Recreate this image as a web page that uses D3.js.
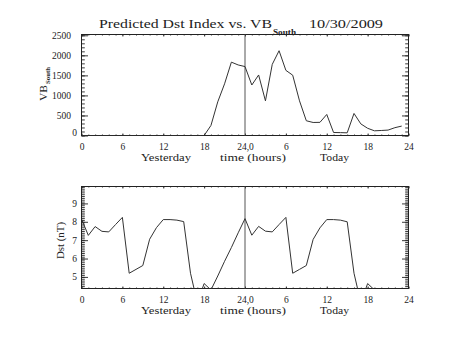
<!DOCTYPE html>
<html>
<head>
<meta charset="utf-8">
<script src="https://cdn.jsdelivr.net/npm/d3@7"></script>
<style>
  body { margin: 0; background: #fff; }
  svg { display: block; }
  text { font-family: "Liberation Serif", "DejaVu Serif", serif; fill: #222; }
</style>
</head>
<body>
<svg id="chart" width="453" height="340"></svg>
<script>
// ---- data ----------------------------------------------------------------
const titleMain = "Predicted Dst Index vs. VB";
const titleSub = "South";
const titleDate = "10/30/2009";

const xTickValues = [0, 6, 12, 18, 24, 30, 36, 42, 48];
const xTickLabels = ["0", "6", "12", "18", "24,0", "6", "12", "18", "24"];
const xGroupLabels = ["Yesterday", "time (hours)", "Today"];

const vbTicks = [0, 500, 1000, 1500, 2000, 2500];
const dstTicks = [5, 6, 7, 8, 9];

// hourly VB_South, hour 0 of yesterday .. hour 23 of today
const vbSouth = [
  0, 0, 0, 0, 0, 0, 0, 0, 0, 0, 0, 0, 0, 0, 0, 0, 0, 0, 0,
  250, 840, 1290, 1830, 1760,
  1720, 1260, 1510, 865, 1775, 2115, 1625, 1505, 865, 368, 325, 328,
  525, 75, 72, 67, 550, 290, 180, 117, 125, 135, 195, 235
];

// hourly predicted Dst (nT)
const dstIndex = [
  8.15, 7.26, 7.74, 7.48, 7.45, 7.85, 8.24, 5.2, 5.41, 5.62, 7.05, 7.68,
  8.12, 8.12, 8.09, 8.01, 5.2, 3.6, 4.64, 4.29, 5.05, 5.85, 6.6, 7.4,
  8.17, 7.27, 7.75, 7.49, 7.45, 7.85, 8.24, 5.2, 5.41, 5.62, 7.04, 7.67,
  8.12, 8.12, 8.09, 8.0, 5.2, 3.6, 4.64, 4.29
];

const dayBoundary = 24;

// ---- layout --------------------------------------------------------------
const svg = d3.select("#chart");
const ink = "#222";
const left = 81.5, right = 408.5;

const x = d3.scaleLinear().domain([0, 48]).range([left, right]);

const panels = [
  {
    id: "vb", top: 34.5, bottom: 135.5, domain: [0, 2520],
    ticks: vbTicks, minor: d3.range(0, 2501, 100),
    values: vbSouth, labelPad: 10.5
  },
  {
    id: "dst", top: 186.5, bottom: 288.5, domain: [4.37, 9.92],
    ticks: dstTicks, minor: d3.range(44, 100).map(d => d / 10),
    values: dstIndex, labelPad: 4.5
  }
];

const tickFont = 9.5;

panels.forEach(p => {
  const y = d3.scaleLinear().domain(p.domain).range([p.bottom, p.top]);
  p.y = y;
  const g = svg.append("g");

  // clip region for the data line
  svg.append("clipPath").attr("id", "clip-" + p.id)
    .append("rect")
    .attr("x", left).attr("y", p.top)
    .attr("width", right - left).attr("height", p.bottom - p.top);

  // minor ticks on all four sides
  const minorX = d3.range(0, 49);
  g.append("g").attr("transform", `translate(0,${p.bottom})`)
    .call(d3.axisBottom(x).tickValues(minorX).tickSize(-1).tickFormat(""));
  g.append("g").attr("transform", `translate(0,${p.top})`)
    .call(d3.axisTop(x).tickValues(minorX).tickSize(-1).tickFormat(""));
  g.append("g").attr("transform", `translate(${left},0)`)
    .call(d3.axisLeft(y).tickValues(p.minor).tickSize(-3.3).tickFormat(""));
  g.append("g").attr("transform", `translate(${right},0)`)
    .call(d3.axisRight(y).tickValues(p.minor).tickSize(-3.3).tickFormat(""));

  // major ticks and labels
  g.append("g").attr("class", "xaxis").attr("transform", `translate(0,${p.bottom})`)
    .call(d3.axisBottom(x).tickValues(xTickValues).tickSize(-2).tickPadding(7.8)
      .tickFormat((d, i) => xTickLabels[i]));
  g.append("g").attr("transform", `translate(0,${p.top})`)
    .call(d3.axisTop(x).tickValues(xTickValues).tickSize(-2).tickFormat(""));
  g.append("g").attr("class", "yaxis").attr("transform", `translate(${left},0)`)
    .call(d3.axisLeft(y).tickValues(p.ticks).tickSize(-6.5).tickPadding(p.labelPad)
      .tickFormat(d3.format("d")));
  g.append("g").attr("transform", `translate(${right},0)`)
    .call(d3.axisRight(y).tickValues(p.ticks).tickSize(-6.5).tickFormat(""));

  g.selectAll(".domain").remove();
  g.selectAll(".tick line").attr("stroke", ink).attr("stroke-width", 0.9);
  g.selectAll("g").attr("font-family", null).attr("font-size", tickFont);

  // frame
  g.append("rect")
    .attr("x", left).attr("y", p.top)
    .attr("width", right - left).attr("height", p.bottom - p.top)
    .attr("fill", "none").attr("stroke", ink).attr("stroke-width", 1);

  // day boundary
  g.append("line")
    .attr("x1", x(dayBoundary)).attr("x2", x(dayBoundary))
    .attr("y1", p.top).attr("y2", p.bottom)
    .attr("stroke", "#555").attr("stroke-width", 1);

  // data line
  const line = d3.line().x((d, i) => x(i)).y(d => y(d));
  g.append("path")
    .datum(p.values)
    .attr("clip-path", `url(#clip-${p.id})`)
    .attr("fill", "none")
    .attr("stroke", "#333")
    .attr("stroke-width", 1)
    .attr("d", line);

  // second row under the x axis
  const groupCenters = [166, 253, 334.5];
  const groupWidths = [50, 66, 29];
  g.selectAll(".grp").data(xGroupLabels).join("text")
    .attr("class", "grp")
    .attr("x", (d, i) => groupCenters[i] - groupWidths[i] / 2)
    .attr("y", p.bottom + 25.3)
    .attr("font-size", 10.5)
    .attr("textLength", (d, i) => groupWidths[i])
    .attr("lengthAdjust", "spacingAndGlyphs")
    .text(d => d);
});

// the zero label of the VB axis sits a little up and to the right
svg.selectAll(".yaxis .tick").filter(d => d === 0).select("text")
  .attr("x", -4.5).attr("dy", "0.05em");

// ---- titles --------------------------------------------------------------
svg.append("text")
  .attr("x", 99).attr("y", 27.5)
  .attr("font-size", 12.5)
  .attr("textLength", 173).attr("lengthAdjust", "spacingAndGlyphs")
  .text(titleMain);
svg.append("text")
  .attr("x", 273).attr("y", 34.5)
  .attr("font-size", 8).attr("font-weight", "bold")
  .attr("textLength", 23).attr("lengthAdjust", "spacingAndGlyphs")
  .text(titleSub);
svg.append("text")
  .attr("x", 309).attr("y", 27.5)
  .attr("font-size", 12.5)
  .attr("textLength", 74).attr("lengthAdjust", "spacingAndGlyphs")
  .text(titleDate);

// VB_South axis title (rotated)
const vbTitle = svg.append("g").attr("transform", "translate(47,101) rotate(-90)");
vbTitle.append("text").attr("x", 0).attr("y", 0)
  .attr("font-size", 10.5)
  .attr("textLength", 16).attr("lengthAdjust", "spacingAndGlyphs")
  .text("VB");
vbTitle.append("text").attr("x", 17).attr("y", 2.5)
  .attr("font-size", 7).attr("font-weight", "bold")
  .attr("textLength", 17).attr("lengthAdjust", "spacingAndGlyphs")
  .text("South");

// Dst axis title (rotated)
svg.append("text")
  .attr("transform", "translate(64,259) rotate(-90)")
  .attr("font-size", 10.5)
  .attr("textLength", 37).attr("lengthAdjust", "spacingAndGlyphs")
  .text("Dst (nT)");
</script>
</body>
</html>
